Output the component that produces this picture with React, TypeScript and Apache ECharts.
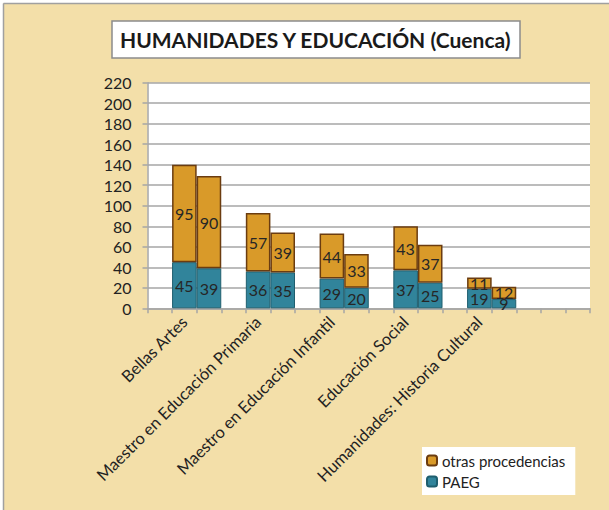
import React, { useEffect, useRef } from "react";
import * as echarts from "echarts";

// Programmes (each has two stacked bars)
const programs = [
  "Bellas Artes",
  "Maestro en Educación Primaria",
  "Maestro en Educación Infantil",
  "Educación Social",
  "Humanidades: Historia Cultural",
];
const paegFirst = [45, 36, 29, 37, 19];
const paegSecond = [39, 35, 20, 25, 9];
const otrasFirst = [95, 57, 44, 43, 11];
const otrasSecond = [90, 39, 33, 37, 12];
const yTicks = { min: 0, max: 220, interval: 20 };
const slotCount = 18;

const FONT = "Lato, 'Open Sans', sans-serif";

function buildSlots() {
  const labels: string[] = new Array(slotCount).fill("");
  const paeg: (number | null)[] = new Array(slotCount).fill(null);
  const otras: (number | null)[] = new Array(slotCount).fill(null);
  programs.forEach((p, i) => {
    const s = 1 + i * 3;
    labels[s] = p;
    paeg[s] = paegFirst[i];
    paeg[s + 1] = paegSecond[i];
    otras[s] = otrasFirst[i];
    otras[s + 1] = otrasSecond[i];
  });
  return { labels, paeg, otras };
}

export default function App() {
  const ref = useRef<HTMLDivElement>(null);
  useEffect(() => {
    document.body.style.margin = "0";
    const chart = echarts.init(ref.current!, null, { renderer: "svg" });
    const { labels, paeg, otras } = buildSlots();
    const labelStyle = {
      show: true,
      position: "inside",
      fontSize: 16,
      fontFamily: FONT,
      color: "#262626",
    };
    chart.setOption({
      animation: false,
      backgroundColor: "#F3DFA9",
      title: {
        text: "HUMANIDADES Y EDUCACIÓN (Cuenca)",
        left: 112,
        top: 21,
        backgroundColor: "#ffffff",
        borderColor: "#8C8C8C",
        borderWidth: 1.5,
        padding: [8, 8, 8, 8],
        textStyle: {
          fontFamily: FONT,
          fontWeight: "bold",
          fontSize: 21,
          color: "#1a1a1a",
        },
      },
      legend: {
        orient: "vertical",
        left: 422,
        top: 447,
        backgroundColor: "#ffffff",
        padding: [6, 10, 6, 4],
        itemWidth: 10,
        itemHeight: 10,
        itemGap: 6,
        data: ["otras procedencias", "PAEG"],
        textStyle: { fontFamily: FONT, fontSize: 15, color: "#222" },
      },
      grid: {
        left: 147.5,
        top: 82.7,
        right: 19,
        bottom: 201.7,
        show: true,
        backgroundColor: "#ffffff",
        borderWidth: 0,
        containLabel: false,
        outerBoundsMode: "none",
      },
      xAxis: {
        type: "category",
        data: labels,
        boundaryGap: true,
        axisLine: { lineStyle: { color: "#A6A6A6", width: 1.5 } },
        axisTick: { show: true, interval: 0, length: 5, lineStyle: { color: "#A6A6A6", width: 1.5 } },
        axisLabel: {
          interval: 0,
          rotate: 45,
          margin: 11,
          fontSize: 16.5,
          fontFamily: FONT,
          color: "#222",
        },
      },
      yAxis: {
        type: "value",
        min: yTicks.min,
        max: yTicks.max,
        interval: yTicks.interval,
        axisLine: { show: true, lineStyle: { color: "#A6A6A6", width: 1.5 } },
        axisTick: { show: true, length: 5, lineStyle: { color: "#A6A6A6", width: 1.5 } },
        splitLine: { lineStyle: { color: "#A6A6A6", width: 1.5 } },
        axisLabel: { margin: 16, fontSize: 16, fontFamily: FONT, color: "#222" },
      },
      series: [
        {
          name: "PAEG",
          type: "bar",
          stack: "total",
          data: paeg,
          barCategoryGap: "0%",
          barGap: "0%",
          itemStyle: { color: "#31849B", borderColor: "#1F5E6E", borderWidth: 1 },
          label: labelStyle,
        },
        {
          name: "otras procedencias",
          type: "bar",
          stack: "total",
          data: otras,
          barCategoryGap: "0%",
          barGap: "0%",
          itemStyle: { color: "#D99A29", borderColor: "#6B3C10", borderWidth: 1.5 },
          label: labelStyle,
        },
      ],
      graphic: [
        { type: "rect", shape: { x: 0, y: 0, width: 609, height: 3 }, style: { fill: "#fff" }, z: 100 },
        { type: "rect", shape: { x: 0, y: 0, width: 3, height: 510 }, style: { fill: "#fff" }, z: 100 },
        { type: "line", shape: { x1: 3.5, y1: 3.5, x2: 609, y2: 3.5 }, style: { stroke: "#A0A0A0", lineWidth: 1.5 }, z: 100 },
        { type: "line", shape: { x1: 3.5, y1: 3.5, x2: 3.5, y2: 510 }, style: { stroke: "#A0A0A0", lineWidth: 1.5 }, z: 100 },
      ],
    });
    return () => chart.dispose();
  }, []);
  return <div ref={ref} style={{ width: 609, height: 510 }} />;
}
